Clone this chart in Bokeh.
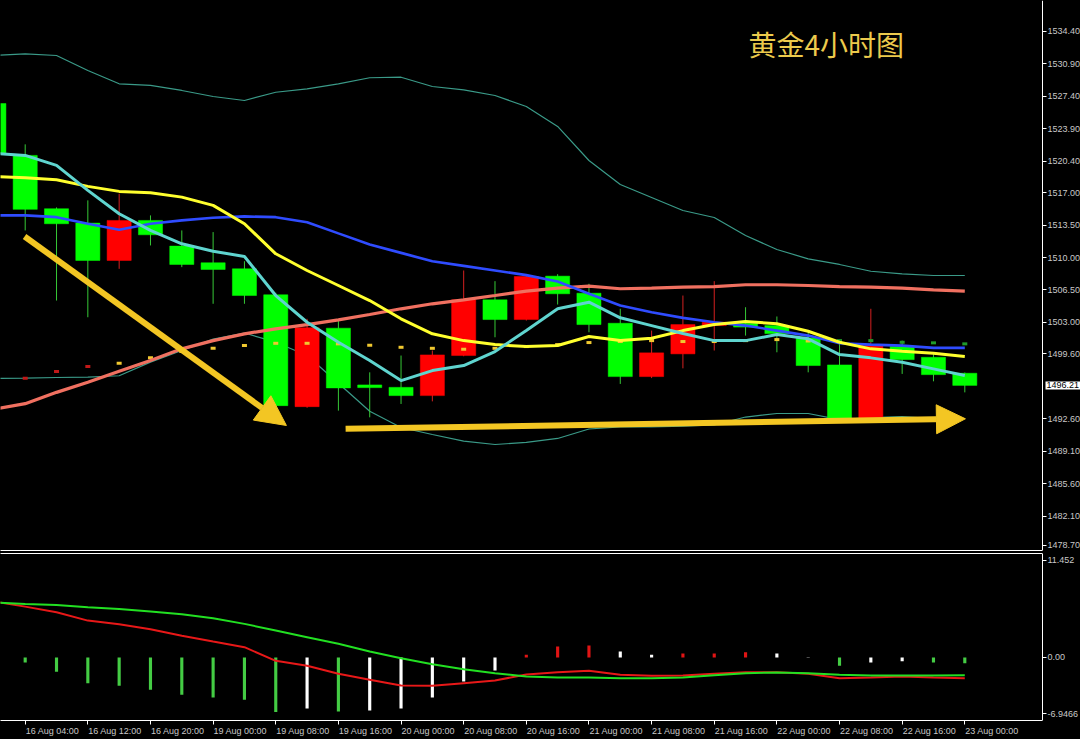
from bokeh.plotting import figure
from bokeh.layouts import column
from bokeh.models import (ColumnDataSource, Range1d, LinearAxis, FixedTicker,
                          Arrow, NormalHead, Label, PrintfTickFormatter)
from bokeh.embed import file_html
from bokeh.resources import INLINE

# ---- 4H gold bars (index 0 = 16 Aug 00:00) ----
bars = list(range(32))
opens = [1526.60, 1521.01, 1515.26, 1513.71, 1509.68, 1514.00, 1511.23, 1509.43,
         1508.78, 1505.98, 1493.92, 1502.38, 1496.26, 1496.00, 1495.11, 1499.43,
         1505.44, 1503.31, 1507.99, 1506.15, 1502.91, 1497.16, 1499.61, 1502.66,
         1502.90, 1502.66, 1501.34, 1498.42, 1492.70, 1500.40, 1499.24, 1497.52]
highs = [1527.80, 1522.20, 1515.40, 1516.16, 1516.88, 1514.54, 1512.92, 1512.74,
         1509.60, 1506.20, 1503.39, 1503.28, 1497.62, 1499.43, 1499.97, 1508.60,
         1507.45, 1508.10, 1508.20, 1507.17, 1504.47, 1502.12, 1505.90, 1507.45,
         1504.64, 1503.64, 1501.94, 1501.04, 1504.47, 1501.04, 1499.61, 1497.60]
lows = [1520.60, 1512.92, 1505.36, 1503.56, 1508.78, 1511.30, 1508.96, 1505.01,
        1505.01, 1493.85, 1493.80, 1493.49, 1492.77, 1494.21, 1494.49, 1499.35,
        1501.40, 1503.20, 1504.93, 1501.94, 1496.37, 1497.00, 1498.05, 1499.97,
        1501.58, 1499.78, 1497.62, 1492.50, 1492.60, 1497.45, 1496.65, 1495.46]
closes = [1521.20, 1515.19, 1513.64, 1509.68, 1514.00, 1512.45, 1509.25, 1508.71,
          1505.90, 1494.03, 1502.42, 1495.94, 1495.97, 1495.11, 1499.50, 1505.44,
          1503.31, 1507.95, 1506.09, 1502.77, 1497.16, 1499.72, 1502.77, 1503.02,
          1502.50, 1501.80, 1498.35, 1492.59, 1500.50, 1498.99, 1497.37, 1496.21]

# moving averages and Bollinger envelope
ma_fast = [1521.23, 1521.01, 1519.94, 1517.24, 1514.72, 1512.92, 1511.48, 1510.68,
           1510.11, 1505.90, 1503.02, 1500.86, 1498.89, 1496.73, 1497.81, 1498.35,
           1499.86, 1502.13, 1504.47, 1505.18, 1503.50, 1502.66, 1501.80, 1501.04,
           1501.04, 1501.69, 1501.23, 1499.53, 1499.18, 1498.70, 1497.99, 1497.27]
ma_mid = [1518.75, 1518.59, 1518.39, 1517.67, 1517.13, 1516.99, 1516.51, 1515.62,
          1513.64, 1510.40, 1508.60, 1506.98, 1505.36, 1503.39, 1501.77, 1501.04,
          1500.61, 1500.40, 1500.51, 1501.48, 1501.04, 1501.29, 1502.12, 1502.77,
          1503.10, 1502.85, 1502.05, 1500.86, 1500.15, 1499.89, 1499.67, 1499.32]
ma_band = [1514.54, 1514.54, 1514.35, 1513.64, 1512.99, 1513.64, 1514.00, 1514.29,
           1514.43, 1514.35, 1513.81, 1512.60, 1511.40, 1510.50, 1509.60, 1509.10,
           1508.60, 1508.10, 1507.41, 1506.09, 1504.82, 1504.10, 1503.49, 1503.02,
           1502.66, 1502.12, 1501.58, 1500.75, 1500.61, 1500.50, 1500.26, 1500.26]
ma_long = [1493.65, 1494.24, 1495.46, 1496.54, 1497.73, 1498.89, 1500.15, 1501.04,
           1501.77, 1502.31, 1502.77, 1503.28, 1503.85, 1504.47, 1505.01, 1505.44,
           1505.90, 1506.37, 1506.69, 1506.91, 1506.63, 1506.69, 1506.80, 1506.87,
           1507.06, 1507.06, 1506.98, 1506.87, 1506.80, 1506.69, 1506.52, 1506.37]
bb_upper = [1531.78, 1531.96, 1531.78, 1530.16, 1528.73, 1528.55, 1528.01, 1527.36,
            1526.93, 1527.82, 1528.19, 1528.73, 1529.38, 1529.44, 1528.44, 1528.08,
            1527.47, 1526.28, 1524.13, 1520.46, 1517.87, 1516.47, 1515.07, 1514.31,
            1512.37, 1510.86, 1509.86, 1509.25, 1508.52, 1508.24, 1508.06, 1508.06]
bb_lower = [1496.95, 1496.99, 1497.06, 1497.11, 1497.25, 1498.72, 1499.97, 1501.20,
            1501.86, 1500.87, 1499.43, 1496.45, 1493.43, 1491.67, 1490.92, 1490.20,
            1489.84, 1490.06, 1490.49, 1491.51, 1491.73, 1491.74, 1491.82, 1491.94,
            1492.80, 1493.18, 1493.18, 1492.53, 1492.75, 1492.86, 1492.64, 1492.64]

# signal dashes, bars 1..31
signal_bars = bars[1:]
signal_level = [1496.98, 1497.70, 1498.24, 1498.59, 1499.18, 1499.86, 1500.21, 1500.50,
                1500.75, 1500.75, 1500.69, 1500.54, 1500.32, 1500.21, 1500.11, 1500.21,
                1500.40, 1500.61, 1500.83, 1500.94, 1501.04, 1500.94, 1500.94, 1501.04,
                1501.15, 1501.00, 1501.04, 1501.04, 1500.86, 1500.80, 1500.69]
signal_state = ["dn"] * 3 + ["flat"] * 23 + ["up"] * 5

# oscillator pane
osc_bars = bars[1:]
osc_hist = [-0.56, -1.58, -2.83, -3.13, -3.57, -4.12, -4.41, -4.67, -6.02, -5.62,
            -5.95, -5.84, -5.62, -4.41, -2.65, -1.44, 0.29, 1.20, 1.31, 0.65,
            0.29, 0.43, 0.43, 0.58, 0.43, -0.05, -0.92, -0.56, -0.41, -0.56, -0.63]
osc_hist_state = (["g"] * 9 + ["w", "g"] + ["w"] * 5 + ["r"] * 3 + ["w"] * 2 +
                  ["r"] * 3 + ["w", "n", "g", "w", "w", "g", "g"])
osc_fast = [6.07, 5.90, 5.79, 5.53, 5.35, 5.05, 4.76, 4.32, 3.70, 2.96, 2.23, 1.50,
            0.65, -0.08, -0.74, -1.29, -1.73, -2.10, -2.21, -2.21, -2.28, -2.28,
            -2.21, -1.95, -1.73, -1.66, -1.73, -1.91, -1.99, -1.99, -1.99, -1.95]
osc_slow = [6.16, 5.60, 4.98, 4.06, 3.66, 3.11, 2.38, 1.75, 1.13, -0.37, -0.92, -1.80,
            -2.46, -3.09, -3.13, -2.83, -2.54, -1.88, -1.62, -1.47, -1.91, -2.02,
            -1.99, -1.80, -1.62, -1.62, -1.80, -2.28, -2.21, -2.10, -2.21, -2.28]
osc_max = 11.452
osc_min = -6.9466

# axis labels
time_label_bars = [1, 3, 5, 7, 9, 11, 13, 15, 17, 19, 21, 23, 25, 27, 29, 31]
time_labels = ["16 Aug 04:00", "16 Aug 12:00", "16 Aug 20:00", "19 Aug 00:00",
               "19 Aug 08:00", "19 Aug 16:00", "20 Aug 00:00", "20 Aug 08:00",
               "20 Aug 16:00", "21 Aug 00:00", "21 Aug 08:00", "21 Aug 16:00",
               "22 Aug 00:00", "22 Aug 08:00", "22 Aug 16:00", "23 Aug 00:00"]
price_ticks = [1534.40, 1530.90, 1527.40, 1523.90, 1520.40, 1517.00, 1513.50, 1510.00,
               1506.50, 1503.00, 1499.60, 1492.60, 1489.10, 1485.60, 1482.10, 1478.70]

title_text = "黄金4小时图"

# ---- styling ----
BG = "black"
AXIS_TXT = "#c8c8c8"
FONT = "Liberation Sans"
UP_C, DN_C = "#ff0000", "#00ff00"
UP_WICK, DN_WICK = "#d42020", "#36c836"
ARROW_C = "#f3c623"

# horizontal geometry: one bar = 31.32 px, price scale starts 1042 px in
BAR_PX = 31.32
x_left = 0.2114
x_scale = x_left + 1042 / BAR_PX          # where the price scale sits
x_range = Range1d(x_left, x_left + 1080 / BAR_PX)
y_lo, y_hi = 1478.41, 1537.71


def scale_axis(ax):
    ax.fixed_location = x_scale
    ax.axis_line_color = "white"
    ax.major_tick_line_color = "white"
    ax.major_tick_out = 4
    ax.major_tick_in = 0
    ax.minor_tick_out = 0
    ax.minor_tick_in = 0
    ax.major_label_standoff = 1
    ax.major_label_text_font = FONT
    ax.major_label_text_font_size = "9px"
    ax.major_label_text_color = AXIS_TXT


def border_axis():
    return LinearAxis(ticker=FixedTicker(ticks=[]), major_tick_out=0, major_tick_in=0,
                      minor_tick_out=0, minor_tick_in=0, major_label_standoff=0,
                      major_label_text_font_size="0px", axis_line_color="white",
                      bounds=(x_left, x_scale))


main = figure(frame_width=1080, frame_height=550, x_range=x_range,
              y_range=Range1d(y_lo, y_hi), x_axis_location=None,
              y_axis_location="right", toolbar_location=None,
              output_backend="svg", background_fill_color=BG,
              border_fill_color=BG, outline_line_color=None,
              min_border_left=0, min_border_top=0, min_border_right=0,
              min_border_bottom=1)
main.xgrid.visible = False
main.ygrid.visible = False

# the lowest price label sits just above the pane's bottom edge
bottom_lift = 0.25
tick_pos = [t if t > y_lo + 1 else t + bottom_lift for t in price_ticks]
yax = main.yaxis[0]
yax.ticker = FixedTicker(ticks=tick_pos)
yax.major_label_overrides = {p: f"{t:.2f}" for p, t in zip(tick_pos, price_ticks)}
yax.formatter = PrintfTickFormatter(format="%.2f")
scale_axis(yax)

main.add_layout(border_axis(), "below")

# Bollinger envelope
main.line(bars, bb_upper, line_color="#3a9a88", line_width=1.2)
main.line(bars, bb_lower, line_color="#3a9a88", line_width=1.2)

# candles
is_down = [c < o for o, c in zip(opens, closes)]
src = ColumnDataSource(dict(
    x=bars, high=highs, low=lows,
    top=[max(o, c) for o, c in zip(opens, closes)],
    bottom=[min(o, c) for o, c in zip(opens, closes)],
    color=[DN_C if d else UP_C for d in is_down],
    wick=[DN_WICK if d else UP_WICK for d in is_down]))
main.segment(x0="x", y0="low", x1="x", y1="high", line_color="wick",
             line_width=1, source=src)
main.vbar(x="x", top="top", bottom="bottom", width=0.77, fill_color="color",
          line_color="color", line_width=0.5, source=src)

# signal dashes
sig_palette = {"dn": "#c01818", "flat": "#f0c830", "up": "#1f9a2a"}
main.rect(signal_bars, signal_level, width=5, height=3, width_units="screen",
          height_units="screen", fill_color=[sig_palette[s] for s in signal_state],
          line_color=None)

# moving averages
main.line(bars, ma_long, line_color="#f07060", line_width=3.2)
main.line(bars, ma_band, line_color="#2f4cff", line_width=2.6)
main.line(bars, ma_mid, line_color="#ffff2e", line_width=3)
main.line(bars, ma_fast, line_color="#5fd4cf", line_width=3)

# trend arrows
main.add_layout(Arrow(end=NormalHead(size=30, fill_color=ARROW_C, line_color=ARROW_C),
                      x_start=0.98, y_start=1512.27, x_end=9.34, y_end=1491.89,
                      line_color=ARROW_C, line_width=6))
main.add_layout(Arrow(end=NormalHead(size=29, fill_color=ARROW_C, line_color=ARROW_C),
                      x_start=11.23, y_start=1491.53, x_end=31.02, y_end=1492.61,
                      line_color=ARROW_C, line_width=6))

# title
main.add_layout(Label(x=24.09, y=1532.97, text=title_text, text_font="Noto Sans CJK SC",
                      text_font_size="28px", text_color="#ecca4c",
                      text_baseline="middle", text_align="left"))

# last price tag on the price scale
main.add_layout(Label(x=x_scale + 3 / BAR_PX, y=closes[-1], text=f"{closes[-1]:.2f}",
                      text_font=FONT, text_font_size="9px", text_color="black",
                      text_baseline="middle", text_align="left", padding=1,
                      background_fill_color="white"))

# ---- oscillator pane ----
edge_pad = 0.72
top_tick = osc_max - edge_pad
bot_tick = osc_min + edge_pad

sub = figure(frame_width=1080, frame_height=167, x_range=x_range,
             y_range=Range1d(osc_min, osc_max), x_axis_location=None,
             y_axis_location="right", toolbar_location=None,
             output_backend="svg", background_fill_color=BG,
             border_fill_color=BG, outline_line_color=None,
             min_border_left=0, min_border_top=2, min_border_right=0,
             min_border_bottom=19)
sub.xgrid.visible = False
sub.ygrid.visible = False

sy = sub.yaxis[0]
sy.ticker = FixedTicker(ticks=[bot_tick, 0.0, top_tick])
sy.major_label_overrides = {top_tick: f"{osc_max:g}", 0.0: "0.00",
                            bot_tick: f"{osc_min:g}"}
scale_axis(sy)

sub.add_layout(border_axis(), "above")

tick_axis = LinearAxis(ticker=FixedTicker(ticks=time_label_bars),
                       major_label_overrides={b: "" for b in time_label_bars},
                       major_tick_out=4, major_tick_in=0, minor_tick_out=0,
                       minor_tick_in=0, major_label_standoff=0,
                       major_label_text_font_size="0px", bounds=(x_left, x_scale),
                       axis_line_color="white", major_tick_line_color="white")
sub.add_layout(tick_axis, "below")

label_shift = 0.87  # text starts just right of its tick
label_pos = [b + label_shift for b in time_label_bars]
label_axis = LinearAxis(ticker=FixedTicker(ticks=label_pos),
                        major_label_overrides=dict(zip(label_pos, time_labels)),
                        major_tick_out=0, major_tick_in=0, minor_tick_out=0,
                        minor_tick_in=0, major_label_standoff=1,
                        major_label_text_font=FONT, major_label_text_font_size="9px",
                        major_label_text_color=AXIS_TXT, axis_line_color=None,
                        major_tick_line_color=None)
sub.add_layout(label_axis, "below")

hist_palette = {"g": "#44cc44", "w": "#ffffff", "r": "#e01414", "n": "#9a9a9a"}
sub.vbar(x=osc_bars, top=osc_hist, bottom=0, width=0.1,
         fill_color=[hist_palette[s] for s in osc_hist_state], line_color=None)
sub.line(bars, osc_slow, line_color="#e81818", line_width=2)
sub.line(bars, osc_fast, line_color="#22e022", line_width=2)

layout = column(main, sub, spacing=0, styles={"background-color": "black"})

html = file_html(layout, INLINE, title="XAUUSD H4")
html = html.replace("<body>", '<body style="margin:0;background:black;overflow:hidden;">')
open("out.html", "w").write(html)
